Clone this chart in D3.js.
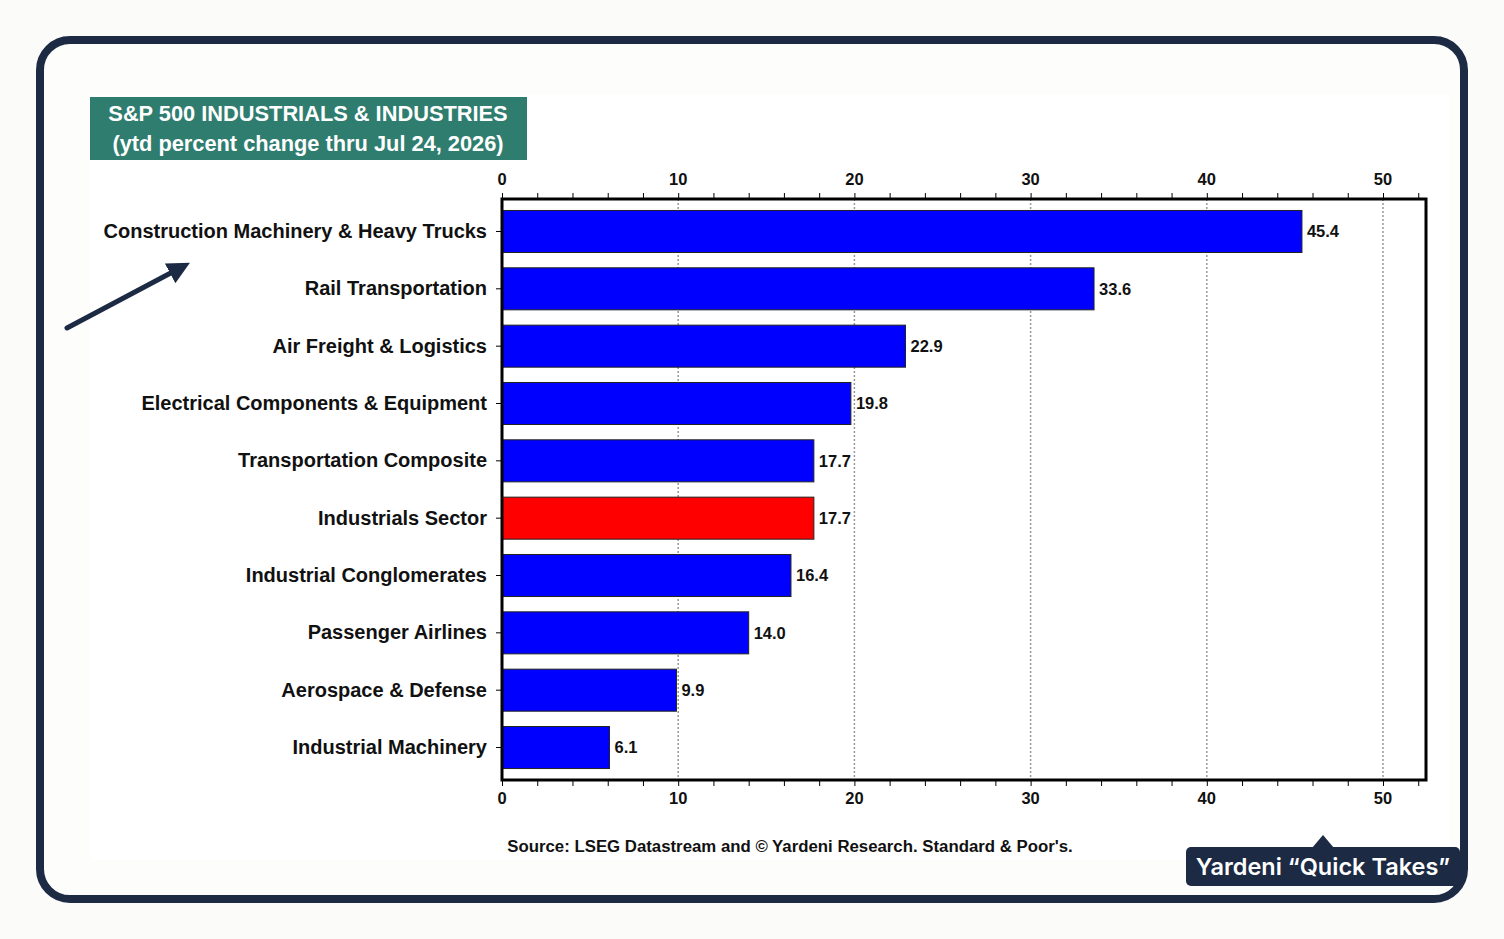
<!DOCTYPE html>
<html>
<head>
<meta charset="utf-8">
<script src="https://cdn.jsdelivr.net/npm/d3@7"></script>
<style>
  html, body { margin: 0; padding: 0; background: #fbfbf9; }
  svg { display: block; }
</style>
</head>
<body>
<div id="myChart"></div>
<script>
// Chart data
var categories = [
  "Construction Machinery & Heavy Trucks",
  "Rail Transportation",
  "Air Freight & Logistics",
  "Electrical Components & Equipment",
  "Transportation Composite",
  "Industrials Sector",
  "Industrial Conglomerates",
  "Passenger Airlines",
  "Aerospace & Defense",
  "Industrial Machinery"
];
var values = [45.4, 33.6, 22.9, 19.8, 17.7, 17.7, 16.4, 14.0, 9.9, 6.1];
var highlight = "Industrials Sector";
var xTicks = [0, 10, 20, 30, 40, 50];
var titleLines = ["S&P 500 INDUSTRIALS & INDUSTRIES", "(ytd percent change thru Jul 24, 2026)"];
var sourceText = "Source: LSEG Datastream and \u00A9 Yardeni Research. Standard & Poor's.";
var badgeText = "Yardeni \u201CQuick Takes\u201D";

var width = 1504;
var height = 939;

var svg = d3.select("#myChart")
  .append("svg")
  .attr("width", width)
  .attr("height", height);

// outer card frame
svg.append("rect")
  .attr("x", 40).attr("y", 40)
  .attr("width", 1424).attr("height", 859)
  .attr("rx", 30).attr("ry", 30)
  .attr("fill", "#fdfdfc")
  .attr("stroke", "#1c2a44")
  .attr("stroke-width", 8);

// chart image area
svg.append("rect")
  .attr("x", 90).attr("y", 95)
  .attr("width", 1360).attr("height", 765)
  .attr("fill", "#ffffff");

// title box
svg.append("rect")
  .attr("x", 90).attr("y", 97)
  .attr("width", 437).attr("height", 63)
  .attr("fill", "#2e7d6f");

svg.selectAll(".title")
  .data(titleLines)
  .enter()
  .append("text")
  .attr("x", 308)
  .attr("y", function(d, i) { return 121 + i * 30; })
  .attr("text-anchor", "middle")
  .attr("fill", "#ffffff")
  .style("font-family", "Liberation Sans, Arial, sans-serif")
  .style("font-weight", "bold")
  .style("font-size", "21.8px")
  .text(function(d) { return d; });

// plot area
var plot = {left: 502, top: 199, right: 1426, bottom: 780};

var xScale = d3.scaleLinear()
  .domain([0, 50])
  .range([plot.left, 1383]);

var yScale = d3.scaleBand()
  .domain(categories)
  .range([plot.top, plot.bottom])
  .paddingInner(0.267)
  .paddingOuter(0.2);

// dotted gridlines
svg.append("g")
  .selectAll("line")
  .data(xTicks.slice(1))
  .enter()
  .append("line")
  .attr("x1", function(d) { return xScale(d); })
  .attr("x2", function(d) { return xScale(d); })
  .attr("y1", plot.top)
  .attr("y2", plot.bottom)
  .attr("stroke", "#999")
  .attr("stroke-width", 1.5)
  .attr("stroke-dasharray", "2,2");

// bars
svg.append("g")
  .selectAll("rect")
  .data(values)
  .enter()
  .append("rect")
  .attr("x", xScale(0))
  .attr("y", function(d, i) { return yScale(categories[i]); })
  .attr("width", function(d) { return xScale(d) - xScale(0); })
  .attr("height", yScale.bandwidth())
  .attr("fill", function(d, i) { return categories[i] == highlight ? "#ff0000" : "#0000ff"; })
  .attr("stroke", "#222")
  .attr("stroke-width", 1);

// value labels
svg.append("g")
  .selectAll("text")
  .data(values)
  .enter()
  .append("text")
  .attr("x", function(d) { return xScale(d) + 5; })
  .attr("y", function(d, i) { return yScale(categories[i]) + yScale.bandwidth() / 2; })
  .attr("dy", "0.35em")
  .style("font-family", "Liberation Sans, Arial, sans-serif")
  .style("font-weight", "bold")
  .style("font-size", "16.5px")
  .attr("fill", "#111")
  .text(function(d) { return d.toFixed(1); });

// plot box
svg.append("rect")
  .attr("x", plot.left).attr("y", plot.top)
  .attr("width", plot.right - plot.left)
  .attr("height", plot.bottom - plot.top)
  .attr("fill", "none")
  .attr("stroke", "#000")
  .attr("stroke-width", 3);

// axes top and bottom
var topAxis = d3.axisTop(xScale).tickValues(d3.range(0, 53, 2)).tickSize(5).tickFormat("");
var bottomAxis = d3.axisBottom(xScale).tickValues(d3.range(0, 53, 2)).tickSize(5).tickFormat("");

svg.append("g")
  .attr("transform", "translate(0," + (plot.top - 1) + ")")
  .call(topAxis)
  .call(function(g) { g.select(".domain").remove(); });

svg.append("g")
  .attr("transform", "translate(0," + (plot.bottom + 1) + ")")
  .call(bottomAxis)
  .call(function(g) { g.select(".domain").remove(); });

// tick labels
[plot.top - 14, plot.bottom + 24].forEach(function(yy) {
  svg.append("g")
    .selectAll("text")
    .data(xTicks)
    .enter()
    .append("text")
    .attr("x", function(d) { return xScale(d); })
    .attr("y", yy)
    .attr("text-anchor", "middle")
    .style("font-family", "Liberation Sans, Arial, sans-serif")
    .style("font-weight", "bold")
    .style("font-size", "16.5px")
    .attr("fill", "#111")
    .text(function(d) { return d; });
});

// category axis
var yAxis = svg.append("g")
  .attr("transform", "translate(" + (plot.left - 1) + ",0)")
  .call(d3.axisLeft(yScale).tickSize(5).tickPadding(9));
yAxis.select(".domain").remove();
yAxis.selectAll("text")
  .style("font-family", "Liberation Sans, Arial, sans-serif")
  .style("font-weight", "bold")
  .style("font-size", "20px")
  .attr("fill", "#111");

// source
svg.append("text")
  .attr("x", 790)
  .attr("y", 852)
  .attr("text-anchor", "middle")
  .style("font-family", "Liberation Sans, Arial, sans-serif")
  .style("font-weight", "bold")
  .style("font-size", "16.8px")
  .attr("fill", "#111")
  .text(sourceText);

// arrow
var defs = svg.append("defs");
defs.append("marker")
  .attr("id", "arrowhead")
  .attr("viewBox", "0 0 10 10")
  .attr("refX", 6).attr("refY", 5)
  .attr("markerWidth", 4.5).attr("markerHeight", 4.5)
  .attr("orient", "auto")
  .append("path")
  .attr("d", "M0,0 L10,5 L0,10 Z")
  .attr("fill", "#1c2a44");

svg.append("line")
  .attr("x1", 67).attr("y1", 328)
  .attr("x2", 182).attr("y2", 267)
  .attr("stroke", "#1c2a44")
  .attr("stroke-width", 5)
  .attr("stroke-linecap", "round")
  .attr("marker-end", "url(#arrowhead)");

// badge
var badge = svg.append("g");
badge.append("path")
  .attr("d", "M1312,848 L1323,835 L1334,848 Z")
  .attr("fill", "#1c2a44");
badge.append("rect")
  .attr("x", 1186).attr("y", 847)
  .attr("width", 274).attr("height", 39)
  .attr("rx", 5)
  .attr("fill", "#1c2a44");
badge.append("text")
  .attr("x", 1323)
  .attr("y", 875)
  .attr("text-anchor", "middle")
  .attr("fill", "#ffffff")
  .style("font-family", "Inter, sans-serif")
  .style("font-weight", "600")
  .style("font-size", "23.5px")
  .text(badgeText);
</script>
</body>
</html>
